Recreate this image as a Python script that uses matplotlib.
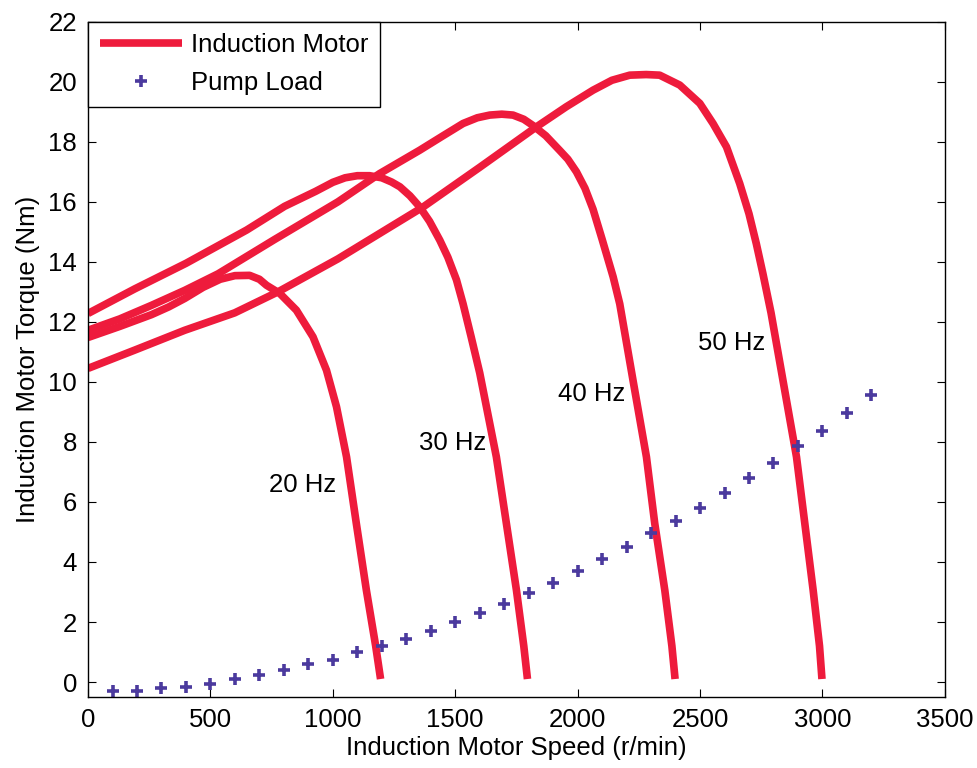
import matplotlib
matplotlib.use("Agg")
import matplotlib.pyplot as plt

plt.rcParams["font.family"] = ["Liberation Sans", "DejaVu Sans"]

# torque-speed curves (speed r/min, torque Nm)
speed_20 = [0, 130, 259, 330, 395, 470, 540, 600, 660, 700, 729, 783, 851, 919, 974, 1015, 1056, 1096, 1137, 1175, 1195]
torque_20 = [11.48, 11.85, 12.24, 12.5, 12.78, 13.15, 13.42, 13.54, 13.55, 13.42, 13.22, 12.95, 12.39, 11.5, 10.39, 9.17, 7.5, 5.28, 3.06, 1.2, 0.1]

speed_30 = [0, 191, 400, 648, 803, 930, 1000, 1050, 1100, 1150, 1200, 1240, 1274, 1315, 1355, 1395, 1437,
            1470, 1505, 1532, 1565, 1600, 1668, 1709, 1750, 1780, 1795]
torque_30 = [12.28, 13.1, 13.95, 15.06, 15.85, 16.35, 16.65, 16.8, 16.87, 16.87, 16.8, 16.66, 16.5, 16.2, 15.83, 15.35, 14.72,
             14.15, 13.4, 12.6, 11.5, 10.3, 7.5, 5.28, 3.06, 1.2, 0.1]

speed_40 = [0, 130, 259, 395, 531, 763, 1021, 1191, 1355, 1450, 1532, 1590, 1641, 1690, 1736, 1780, 1818, 1870,
            1927, 1960, 1995, 2030, 2063, 2100, 2145, 2172, 2226, 2281, 2315, 2356, 2385, 2398]
torque_40 = [11.72, 12.1, 12.55, 13.05, 13.6, 14.75, 16.0, 16.94, 17.72, 18.2, 18.61, 18.8, 18.89, 18.92, 18.89, 18.75, 18.54, 18.2,
             17.71, 17.42, 17.0, 16.45, 15.75, 14.75, 13.5, 12.6, 10.06, 7.5, 5.28, 3.06, 1.2, 0.1]

speed_50 = [0, 191, 395, 599, 776, 1021, 1192, 1369, 1600, 1832, 1954, 2063, 2140, 2213, 2280, 2335, 2417, 2499,
            2553, 2608, 2662, 2700, 2730, 2757, 2790, 2853, 2894, 2928, 2962, 2988, 2998]
torque_50 = [10.45, 11.06, 11.72, 12.3, 13.0, 14.1, 14.95, 15.83, 17.15, 18.5, 19.17, 19.72, 20.05, 20.22, 20.24, 20.22, 19.89, 19.28,
             18.61, 17.83, 16.61, 15.6, 14.6, 13.6, 12.3, 9.39, 7.5, 5.28, 3.06, 1.2, 0.1]

motor_curves = [(speed_20, torque_20), (speed_30, torque_30), (speed_40, torque_40), (speed_50, torque_50)]

# pump load points
pump_speed = [100, 200, 300, 400, 500, 600, 700, 800, 900, 1000, 1100, 1200, 1300, 1400, 1500, 1600,
              1700, 1800, 1900, 2000, 2100, 2200, 2300, 2400, 2500, 2600, 2700, 2800, 2900, 3000, 3100, 3200]
pump_torque = [-0.3, -0.3, -0.2, -0.15, -0.05, 0.1, 0.25, 0.4, 0.6, 0.75, 1.0, 1.2, 1.45, 1.7, 2.0, 2.3,
               2.6, 2.95, 3.3, 3.7, 4.1, 4.5, 4.95, 5.35, 5.8, 6.3, 6.8, 7.3, 7.85, 8.35, 8.95, 9.55]

freq_labels = ["20 Hz", "30 Hz", "40 Hz", "50 Hz"]
label_speed = [877, 1491, 2056, 2630]
label_torque = [6.56, 7.96, 9.59, 11.28]

red = "#EE1B3C"
purple = "#4B3A9E"
fs = 18.5

fig = plt.figure(figsize=(9.77, 7.68), dpi=100)
ax = fig.add_axes([0.0901, 0.0924, 0.877, 0.8793])

for i, (s, t) in enumerate(motor_curves):
    ax.plot(s, t, color=red, lw=5.5, solid_capstyle="butt", solid_joinstyle="round",
            label="Induction Motor" if i == 0 else None)

ax.plot(pump_speed, pump_torque, linestyle="none", marker="+", markersize=9,
        markeredgewidth=2.6, color=purple, label="Pump Load")

for lab, x, y in zip(freq_labels, label_speed, label_torque):
    ax.text(x, y, lab, fontsize=fs, ha="center", va="center")

ax.set_xlim(0, 3500)
ax.set_ylim(-0.5, 22)
ax.set_xticks(range(0, 3501, 500))
ax.set_yticks(range(0, 23, 2))
ax.tick_params(direction="in", length=6, width=0.8, labelsize=fs,
               top=True, right=True, pad=8)
for sp in ax.spines.values():
    sp.set_linewidth(1.0)

ax.set_xlabel("Induction Motor Speed (r/min)", fontsize=fs, labelpad=3)
ax.set_ylabel("Induction Motor Torque (Nm)", fontsize=fs, labelpad=6)

leg = ax.legend(loc="upper left", bbox_to_anchor=(0, 1), borderaxespad=0,
                fontsize=fs, numpoints=1, handlelength=3.2, handletextpad=0.35,
                labelspacing=0.55, borderpad=0.45, fancybox=False, framealpha=1)
leg.get_frame().set_edgecolor("black")
leg.get_frame().set_linewidth(1.0)

fig.savefig("out.png", dpi=100)
